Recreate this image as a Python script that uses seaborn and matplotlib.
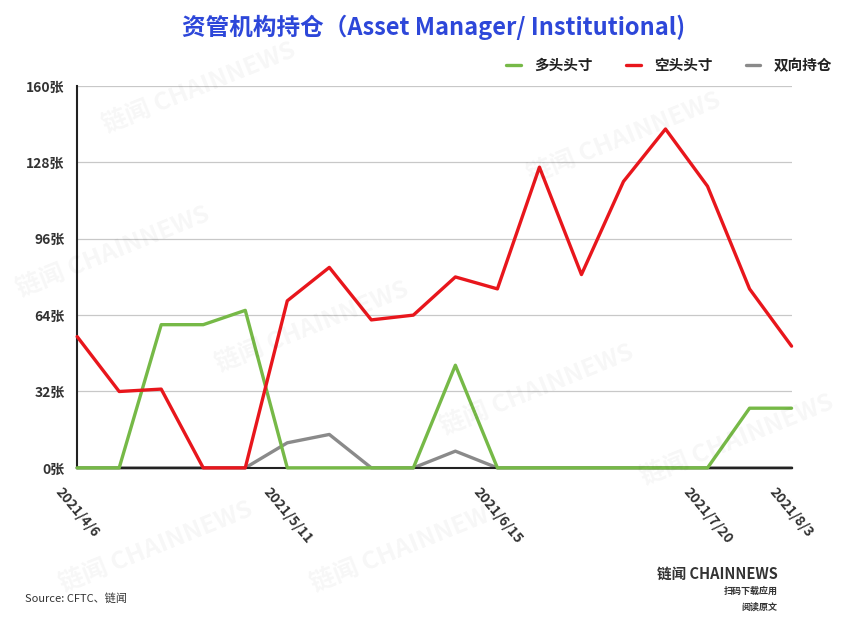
import matplotlib
matplotlib.use("Agg")
import matplotlib.pyplot as plt
import seaborn as sns
import pandas as pd

# 每周数据 (2021/4/6 - 2021/8/3)
fechas = pd.date_range("2021-04-06", "2021-08-03", freq="7D")
duotou = [0, 0, 60, 60, 66, 0, 0, 0, 0, 43, 0, 0, 0, 0, 0, 0, 25, 25]
kongtou = [55, 32, 33, 0, 0, 70, 84, 62, 64, 80, 75, 126, 81, 120, 142, 118, 75, 51]
shuangxiang = [0, 0, 0, 0, 0, 10.5, 14, 0, 0, 7, 0, 0, 0, 0, 0, 0, 0, 0]

series_names = ["多头头寸", "空头头寸", "双向持仓"]
colores = ["#76b947", "#e8161c", "#8a8a8a"]
yticks = [0, 32, 64, 96, 128, 160]
xtick_fechas = ["2021-04-06", "2021-05-11", "2021-06-15", "2021-07-20", "2021-08-03"]
xtick_labels = ["2021/4/6", "2021/5/11", "2021/6/15", "2021/7/20", "2021/8/3"]

df = pd.DataFrame({
    "fecha": list(fechas) * 3,
    "valor": duotou + kongtou + shuangxiang,
    "serie": [series_names[0]] * 18 + [series_names[1]] * 18 + [series_names[2]] * 18,
})

sns.set_theme(style="white")
plt.rcParams['font.family'] = ['Noto Sans CJK SC', 'DejaVu Sans']

fig = plt.figure(figsize=(8.67, 6.28), dpi=100)
ax = fig.add_axes([0.089, 0.255, 0.824, 0.608])

sns.lineplot(data=df, x="fecha", y="valor", hue="serie", hue_order=series_names,
             palette=colores, linewidth=2.4, ax=ax)

# orden de dibujo: gris abajo, verde, rojo arriba
for ln, z in zip(ax.lines, [3, 4, 2]):
    ln.set_zorder(z)
    ln.set_clip_on(False)

ax.set_xlim(fechas[0], fechas[-1])
ax.set_ylim(0, 160)
ax.set_yticks(yticks)
ax.set_yticklabels([f"{v}张" for v in yticks], fontsize=10, color="#333333", fontweight="bold")
ax.set_xticks(pd.to_datetime(xtick_fechas))
ax.set_xticklabels(xtick_labels, rotation=-50, fontsize=10, color="#333333", fontweight="bold")
ax.tick_params(axis="y", length=0, pad=9)
ax.tick_params(axis="x", length=0, pad=12)
ax.set_xlabel("")
ax.set_ylabel("")
ax.grid(axis="y", color="#c8c8c8", linewidth=0.9)
ax.set_axisbelow(True)
for lado in ["top", "right"]:
    ax.spines[lado].set_visible(False)
for lado in ["left", "bottom"]:
    ax.spines[lado].set_color("#222222")
    ax.spines[lado].set_linewidth(1.5)

leg = ax.legend(loc="lower right", bbox_to_anchor=(1.075, 1.0), ncol=3, frameon=False,
                handlelength=1.0, handletextpad=0.9, columnspacing=2.3,
                prop={"weight": "bold", "size": 10.5})
for t in leg.get_texts():
    t.set_color("#222222")

fig.text(0.5, 0.957, "资管机构持仓（Asset Manager/ Institutional)", ha="center", va="center",
         fontsize=17, fontweight="bold", color="#2d47d9")

fig.text(0.029, 0.047, "Source: CFTC、链闻", ha="left", va="center", fontsize=8,
         color="#333333")

# marca de agua
marcas = [(0.23, 0.86), (0.13, 0.6), (0.36, 0.48), (0.62, 0.38), (0.85, 0.3),
          (0.72, 0.78), (0.18, 0.13), (0.47, 0.13)]
for mx, my in marcas:
    fig.text(mx, my, "链闻 CHAINNEWS", ha="center", va="center", rotation=22,
             fontsize=18, fontweight="bold", color="#000000", alpha=0.035)

fig.text(0.897, 0.087, "链闻 CHAINNEWS", ha="right", va="center", fontsize=10.5,
         fontweight="bold", color="#333333")
fig.text(0.897, 0.059, "扫码下载应用", ha="right", va="center", fontsize=6.5,
         fontweight="bold", color="#333333")
fig.text(0.897, 0.034, "阅读原文", ha="right", va="center", fontsize=6.5,
         fontweight="bold", color="#333333")

fig.savefig("out.png", dpi=100)
plt.close(fig)
